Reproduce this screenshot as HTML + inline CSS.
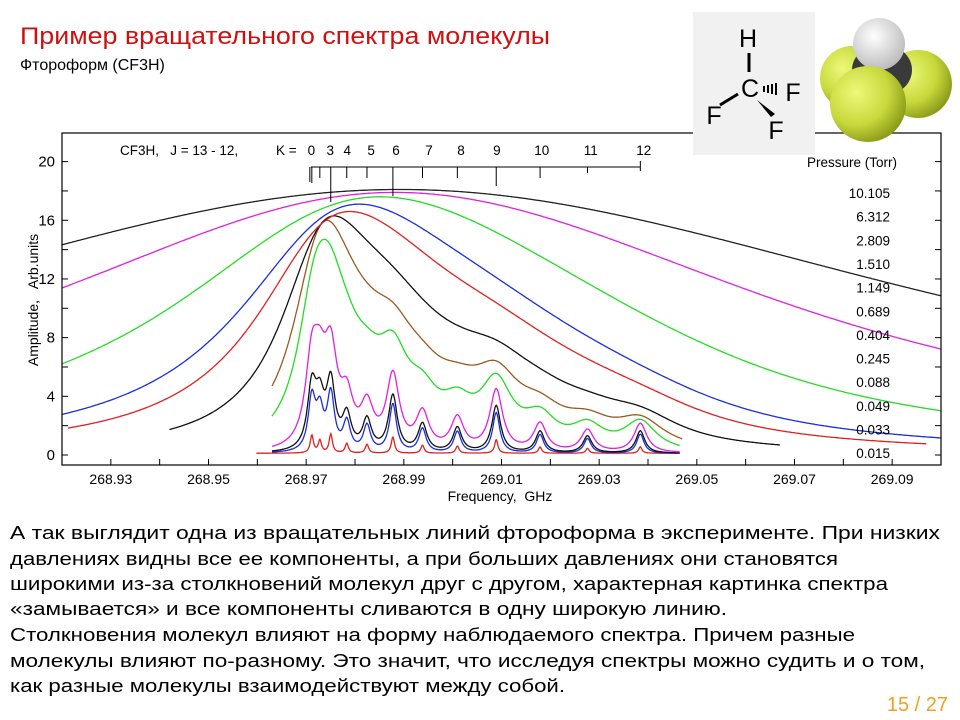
<!DOCTYPE html>
<html><head><meta charset="utf-8">
<style>
html,body{margin:0;padding:0;background:#fff;}
body{width:960px;height:720px;overflow:hidden;position:relative;font-family:"Liberation Sans",sans-serif;}
svg{position:absolute;left:0;top:0;}
svg text{white-space:pre;}
</style></head>
<body>
<svg id="s" width="960" height="720" viewBox="0 0 960 720" xmlns="http://www.w3.org/2000/svg" xml:space="preserve">
  <text x="20" y="44" font-size="24" fill="#d01010" font-family="Liberation Sans, sans-serif" textLength="530" lengthAdjust="spacingAndGlyphs">Пример вращательного спектра молекулы</text>
  <text x="20" y="70" font-size="16" fill="#000" font-family="Liberation Sans, sans-serif">Фтороформ (CF3H)</text>

  <g id="chart">
    <g id="plot"></g>
    <rect x="62" y="133" width="879" height="332" fill="none" stroke="#000" stroke-width="1.2"/>
    <g id="axes" font-family="Liberation Sans, sans-serif" fill="#000"></g>
    <text x="500" y="501" font-size="14" text-anchor="middle">Frequency,  GHz</text>
    <text transform="translate(38,300) rotate(-90)" font-size="14" text-anchor="middle">Amplitude,   Arb.units</text>
    <g id="ladder" font-size="13.5"></g>
    <g id="legend" font-size="13.5" text-anchor="end"></g>
  </g>

  <g>
    <rect x="693" y="12" width="122" height="143" fill="#f1f1f1"/>
    <text x="748" y="47" font-size="25" text-anchor="middle">H</text>
    <line x1="749" y1="53" x2="749" y2="72" stroke="#000" stroke-width="3"/>
    <text x="750" y="97" font-size="25" text-anchor="middle">C</text>
    <g stroke="#000" stroke-width="2">
      <line x1="764" y1="86" x2="764" y2="92"/><line x1="768" y1="85" x2="768" y2="93"/><line x1="772" y1="84" x2="772" y2="94"/><line x1="776" y1="83" x2="776" y2="95"/>
    </g>
    <text x="793" y="101" font-size="25" text-anchor="middle">F</text>
    <line x1="738" y1="94" x2="720" y2="105" stroke="#000" stroke-width="3"/>
    <text x="714" y="124" font-size="25" text-anchor="middle">F</text>
    <polygon points="757,100 771,117 775,114" fill="#000"/>
    <text x="776" y="139" font-size="25" text-anchor="middle">F</text>
  </g>
  <g>
    <defs>
      <radialGradient id="gy" cx="0.35" cy="0.35" r="0.7"><stop offset="0" stop-color="#eef97a"/><stop offset="0.6" stop-color="#c7d93c"/><stop offset="1" stop-color="#8a9a18"/></radialGradient>
      <radialGradient id="gw" cx="0.4" cy="0.35" r="0.7"><stop offset="0" stop-color="#ffffff"/><stop offset="1" stop-color="#b8b8b8"/></radialGradient>
    </defs>
    <circle cx="852" cy="78" r="32" fill="url(#gy)"/>
    <circle cx="918" cy="84" r="34" fill="url(#gy)"/>
    <ellipse cx="882" cy="70" rx="30" ry="26" fill="#3a3a3a"/>
    <circle cx="879" cy="44" r="26" fill="url(#gw)"/>
    <circle cx="868" cy="104" r="38" fill="url(#gy)"/>
  </g>

  <g font-family="Liberation Sans, sans-serif" font-size="18" fill="#000">
    <text x="10" y="539" textLength="930" lengthAdjust="spacingAndGlyphs">А так выглядит одна из вращательных линий фтороформа в эксперименте. При низких</text>
    <text x="10" y="565" textLength="828" lengthAdjust="spacingAndGlyphs">давлениях видны все ее компоненты, а при больших давлениях они становятся</text>
    <text x="10" y="590" textLength="878" lengthAdjust="spacingAndGlyphs">широкими из-за столкновений молекул друг с другом, характерная картинка спектра</text>
    <text x="10" y="615" textLength="717" lengthAdjust="spacingAndGlyphs">«замывается» и все компоненты сливаются в одну широкую линию.</text>
    <text x="10" y="641" textLength="845" lengthAdjust="spacingAndGlyphs">Столкновения молекул влияют на форму наблюдаемого спектра. Причем разные</text>
    <text x="10" y="667" textLength="915" lengthAdjust="spacingAndGlyphs">молекулы влияют по-разному. Это значит, что исследуя спектры можно судить и о том,</text>
    <text x="10" y="692" textLength="555" lengthAdjust="spacingAndGlyphs">как разные молекулы взаимодействуют между собой.</text>
  </g>
  <text x="948" y="711" font-size="20" fill="#f0a020" text-anchor="end" font-family="Liberation Sans, sans-serif">15 / 27</text>
</svg>
<script>
// ---- data ----
const lineFreqs = [268.97116,268.97280,268.97504,268.97831,268.98245,268.98776,268.99382,269.00096,269.00892,269.01790,269.02761,269.03843];
const lineStrengths = [1.35,0.95,1.45,0.75,0.68,1.25,0.62,0.55,1.05,0.48,0.38,0.5];
const kLabels = ["0","3","4","5","6","7","8","9","10","11","12"];
const kLabelFreqs = [268.97106,268.97494,268.97841,268.98331,268.98841,268.99516,269.00171,269.00906,269.01825,269.02829,269.03914];
const ladderDepths = [16,11,35,11,11,29,11,11,19,11,6,4];
const pressures = ["10.105","6.312","2.809","1.510","1.149","0.689","0.404","0.245","0.088","0.049","0.033","0.015"];
const seriesColors = ["#222","#e020e0","#22dd22","#1a2ee0","#e02020","#111","#9a5a20","#22dd22","#e020e0","#111","#1a2ee0","#e02020"];
const seriesPeak = [18.1,17.9,17.6,17.1,16.6,16.3,16.0,14.7,8.9,5.7,4.6,1.45];
const seriesWidth = [0.13,0.085,0.044,0.024,0.018,0.010,0.006,0.004,0.0016,0.0011,0.0009,0.0004];
const seriesStart = [268.92,268.92,268.92,268.92,268.9212,268.9420,268.9630,268.9630,268.9630,268.9630,268.9630,268.9598];
const seriesEnd = [269.10,269.10,269.10,269.10,269.0970,269.0670,269.0470,269.0465,269.0465,269.0465,269.0465,269.0465];
const seriesBase = [0,0,0,0,0,0,0,0,0.1,0.1,0.1,0.12];
const xTicks = [268.93,268.94,268.95,268.96,268.97,268.98,268.99,269.00,269.01,269.02,269.03,269.04,269.05,269.06,269.07,269.08,269.09];
const xTickLabels = ["268.93","","268.95","","268.97","","268.99","","269.01","","269.03","","269.05","","269.07","","269.09"];
const yTicks = [0,2,4,6,8,10,12,14,16,18,20];
const yTickLabels = ["0","","4","","8","","12","","16","","20"];

// ---- axes ----
const X0=62,X1=941,F0=268.92,F1=269.10;
const X = f => X0 + (f-F0)/(F1-F0)*(X1-X0);
const Y = v => 455 - v*14.67;
const NS="http://www.w3.org/2000/svg";
function mk(tag, attrs, parent){const e=document.createElementNS(NS,tag);for(const k in attrs)e.setAttribute(k,attrs[k]);parent.appendChild(e);return e;}

const axes=document.getElementById('axes');
xTicks.forEach((t,i)=>{
  const l=mk('line',{x1:X(t),x2:X(t),y1:465,y2:459,stroke:'#000','stroke-width':1},axes);
  
  
  if(xTickLabels[i]){
    const tx=mk('text',{x:X(t),y:484,'font-size':14,'text-anchor':'middle'},axes);
    tx.textContent=xTickLabels[i];
    
    
  }
});
yTicks.forEach((t,i)=>{
  const a=mk('line',{x1:X0,x2:X0+6,y1:Y(t),y2:Y(t),stroke:'#000','stroke-width':1},axes);
  
  
  if(Y(t)>150){
    const b=mk('line',{x1:X1,x2:X1-6,y1:Y(t),y2:Y(t),stroke:'#000','stroke-width':1},axes);
    
    
  }
  if(yTickLabels[i]){
    const tx=mk('text',{x:55,y:Y(t)+5,'font-size':15,'text-anchor':'end'},axes);
    tx.textContent=yTickLabels[i];
    
    
  }
});

// ---- spectra ----
const plot=document.getElementById('plot');
for(let s=seriesPeak.length-1;s>=0;s--){
  const g=seriesWidth[s], N=700, pts=[];
  let mx=0;
  for(let i=0;i<=N;i++){
    const f=seriesStart[s]+(seriesEnd[s]-seriesStart[s])*i/N;
    let v=0;
    for(let k=0;k<lineFreqs.length;k++){const d=f-lineFreqs[k];v+=lineStrengths[k]*g*g/(d*d+g*g);}
    pts.push([f,v]); if(v>mx)mx=v;
  }
  for(let i=0;i<=400;i++){const f=F0+(F1-F0)*i/400;let v=0;for(let k=0;k<lineFreqs.length;k++){const d=f-lineFreqs[k];v+=lineStrengths[k]*g*g/(d*d+g*g);}if(v>mx)mx=v;}
  const sc=(seriesPeak[s]-seriesBase[s])/mx;
  const d=pts.map((p,i)=>(i?'L':'M')+X(p[0]).toFixed(1)+','+Y(seriesBase[s]+p[1]*sc).toFixed(1)).join('');
  const p=mk('path',{d:d,fill:'none',stroke:seriesColors[s],'stroke-width':1.3},plot);
  
  
}

// ---- K ladder ----
const lad=document.getElementById('ladder');
const t1=mk('text',{x:120,y:155},lad);t1.textContent='CF3H,   J = 13 - 12,';


const t2=mk('text',{x:276,y:155},lad);t2.textContent='K =';


kLabels.forEach((k,i)=>{
  const t=mk('text',{x:X(kLabelFreqs[i]),y:155,'text-anchor':'middle'},lad);t.textContent=k;
  
  
});
const hl=mk('line',{x1:X(lineFreqs[0])-1,x2:X(lineFreqs[11]),y1:167,y2:167,stroke:'#000','stroke-width':1},lad);


lineFreqs.forEach((f,i)=>{
  const l=mk('line',{x1:X(f),x2:X(f),y1:167,y2:167+ladderDepths[i],stroke:'#000','stroke-width':1},lad);
  
  
});
mk('line',{x1:X(lineFreqs[0])-2,x2:X(lineFreqs[0])-2,y1:167,y2:182,stroke:'#000','stroke-width':1},lad);
mk('line',{x1:X(lineFreqs[11]),x2:X(lineFreqs[11]),y1:161,y2:167,stroke:'#000','stroke-width':1},lad);

// ---- legend ----
const lg=document.getElementById('legend');
const lt=mk('text',{x:897,y:167},lg);lt.textContent='Pressure (Torr)';


pressures.forEach((p,i)=>{
  const t=mk('text',{x:890,y:198+i*23.65},lg);t.textContent=p;
  
  
});
</script>
</body></html>
